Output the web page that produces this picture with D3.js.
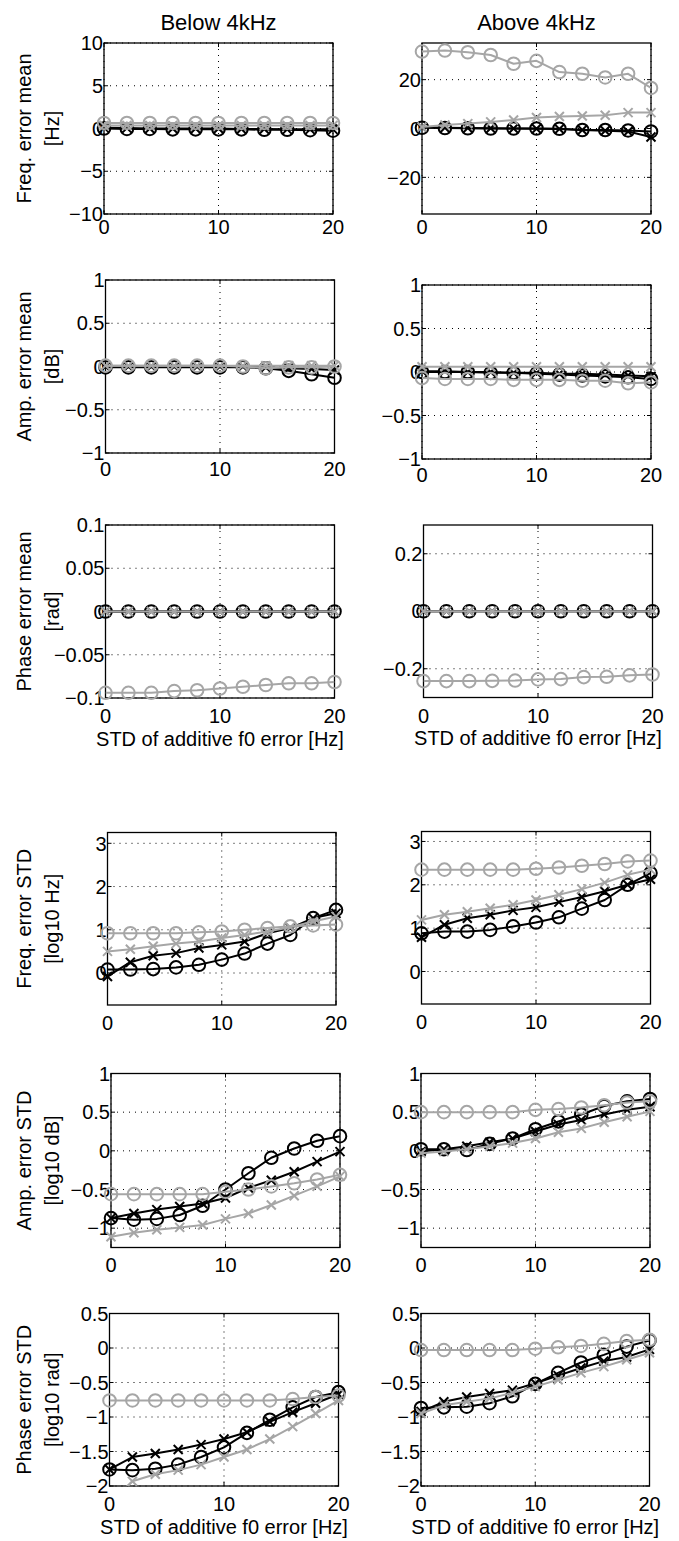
<!DOCTYPE html>
<html><head><meta charset="utf-8">
<script src="https://cdn.jsdelivr.net/npm/d3@7"></script>
<style>
html,body{margin:0;padding:0;background:#fff;}
svg{display:block;}
text{font-family:"Liberation Sans",Arial,Helvetica,sans-serif;fill:#000;}
</style></head>
<body>
<svg id="chart" width="679" height="1541"></svg>
<script>
// ---------- data ----------
const xValues = [0, 2, 4, 6, 8, 10, 12, 14, 16, 18, 20];
const xTicks = [0, 10, 20];
const columnTitles = ["Below 4kHz", "Above 4kHz"];
const rowLabels = [
  ["Freq. error mean", "[Hz]"],
  ["Amp. error mean", "[dB]"],
  ["Phase error mean", "[rad]"],
  ["Freq. error STD", "[log10 Hz]"],
  ["Amp. error STD", "[log10 dB]"],
  ["Phase error STD", "[log10 rad]"]
];
const xLabelText = "STD of additive f0 error [Hz]";

// y tick labels per panel
const yTicksFreqMeanLow = [-10, -5, 0, 5, 10];
const yTicksFreqMeanHigh = [-20, 0, 20];
const yTicksAmpMean = [-1, -0.5, 0, 0.5, 1];
const yTicksPhaseMeanLow = [-0.1, -0.05, 0, 0.05, 0.1];
const yTicksPhaseMeanHigh = [-0.2, 0, 0.2];
const yTicksFreqStd = [0, 1, 2, 3];
const yTicksAmpStd = [-1, -0.5, 0, 0.5, 1];
const yTicksPhaseStd = [-2, -1.5, -1, -0.5, 0, 0.5];

// Freq. error mean, below 4kHz
const freqMeanLowBlackO = [0, -0.05, -0.05, -0.1, -0.1, -0.1, -0.1, -0.15, -0.15, -0.2, -0.25];
const freqMeanLowBlackX = [0.1, 0.05, 0, 0, 0, 0, -0.05, -0.05, -0.1, -0.1, -0.1];
const freqMeanLowGrayO = [0.65, 0.65, 0.65, 0.65, 0.65, 0.65, 0.65, 0.65, 0.65, 0.65, 0.65];
const freqMeanLowGrayX = [0.35, 0.35, 0.35, 0.35, 0.35, 0.35, 0.35, 0.35, 0.35, 0.35, 0.35];
// Freq. error mean, above 4kHz
const freqMeanHighBlackO = [0.3, 0.2, 0.1, 0, 0, 0, -0.1, -0.6, -0.6, -0.8, -1.2];
const freqMeanHighBlackX = [0.5, 0.3, 0.2, 0.1, 0, -0.1, -0.2, -0.6, -0.9, -1.2, -3.5];
const freqMeanHighGrayO = [31.5, 31.9, 31.2, 30.1, 26.5, 27.7, 23.1, 22.4, 20.9, 22.4, 16.6];
const freqMeanHighGrayX = [0.6, 1.4, 2.0, 2.7, 3.5, 4.5, 4.9, 5.1, 5.4, 6.5, 6.5];
// Amp. error mean, below 4kHz
const ampMeanLowBlackO = [-0.01, -0.01, -0.01, -0.01, -0.01, -0.01, -0.01, -0.02, -0.05, -0.09, -0.13];
const ampMeanLowBlackX = [0, 0, 0, 0, 0, 0, 0, -0.01, -0.02, -0.03, -0.04];
const ampMeanLowGrayO = [0.01, 0.01, 0.01, 0.01, 0.01, 0.01, 0, -0.02, -0.01, -0.01, 0];
const ampMeanLowGrayX = [0.01, 0.01, 0.01, 0.01, 0.01, 0.01, 0.01, 0.01, 0.01, 0.01, 0.01];
// Amp. error mean, above 4kHz
const ampMeanHighBlackO = [0, 0, 0, -0.01, -0.01, -0.02, -0.03, -0.04, -0.05, -0.06, -0.08];
const ampMeanHighBlackX = [0.01, 0.01, 0, 0, -0.01, -0.01, -0.02, -0.02, -0.03, -0.04, -0.05];
const ampMeanHighGrayO = [-0.07, -0.08, -0.08, -0.08, -0.09, -0.09, -0.09, -0.1, -0.1, -0.13, -0.12];
const ampMeanHighGrayX = [0.06, 0.06, 0.06, 0.06, 0.06, 0.06, 0.06, 0.06, 0.06, 0.06, 0.06];
// Phase error mean, below 4kHz
const phaseMeanLowBlackO = [0, 0, 0, 0, 0, 0, 0, 0, 0, 0, 0];
const phaseMeanLowBlackX = [0, 0, 0, 0, 0, 0, 0, 0, 0, 0, 0];
const phaseMeanLowGrayO = [-0.094, -0.094, -0.094, -0.092, -0.091, -0.089, -0.087, -0.085, -0.083, -0.083, -0.0815];
const phaseMeanLowGrayX = [0, 0, 0, 0, 0, 0, 0, 0, 0, 0, 0];
// Phase error mean, above 4kHz
const phaseMeanHighBlackO = [0, 0, 0, 0, 0, 0, 0, 0, 0, 0, 0];
const phaseMeanHighBlackX = [0, 0, 0, 0, 0, 0, 0, 0, 0, 0, 0];
const phaseMeanHighGrayO = [-0.243, -0.243, -0.243, -0.242, -0.241, -0.237, -0.236, -0.229, -0.228, -0.223, -0.22];
const phaseMeanHighGrayX = [0, 0, 0, 0, 0, 0, 0, 0, 0, 0, 0];
// Freq. error STD, below 4kHz
const freqStdLowBlackO = [0.08, 0.08, 0.09, 0.13, 0.19, 0.31, 0.45, 0.68, 0.88, 1.27, 1.46];
const freqStdLowBlackX = [-0.08, 0.25, 0.40, 0.46, 0.58, 0.65, 0.73, 0.92, 1.04, 1.27, 1.38];
const freqStdLowGrayO = [0.92, 0.92, 0.92, 0.92, 0.94, 0.96, 1.0, 1.04, 1.08, 1.1, 1.12];
const freqStdLowGrayX = [0.5, 0.55, 0.62, 0.68, 0.73, 0.81, 0.88, 0.96, 1.06, 1.19, 1.31];
// Freq. error STD, above 4kHz
const freqStdHighBlackO = [0.88, 0.92, 0.92, 0.96, 1.04, 1.13, 1.25, 1.45, 1.65, 2.0, 2.27];
const freqStdHighBlackX = [0.79, 1.08, 1.23, 1.31, 1.41, 1.48, 1.6, 1.72, 1.85, 2.0, 2.13];
const freqStdHighGrayO = [2.35, 2.35, 2.35, 2.35, 2.35, 2.37, 2.40, 2.44, 2.48, 2.54, 2.56];
const freqStdHighGrayX = [1.19, 1.31, 1.38, 1.46, 1.54, 1.65, 1.77, 1.9, 2.05, 2.23, 2.35];
// Amp. error STD, below 4kHz
const ampStdLowBlackO = [-0.87, -0.89, -0.88, -0.83, -0.71, -0.50, -0.29, -0.09, 0.03, 0.13, 0.19];
const ampStdLowBlackX = [-0.87, -0.81, -0.76, -0.72, -0.68, -0.61, -0.48, -0.38, -0.27, -0.14, -0.01];
const ampStdLowGrayO = [-0.56, -0.56, -0.56, -0.56, -0.56, -0.53, -0.50, -0.46, -0.42, -0.37, -0.31];
const ampStdLowGrayX = [-1.11, -1.06, -1.02, -0.99, -0.96, -0.88, -0.81, -0.70, -0.58, -0.46, -0.33];
// Amp. error STD, above 4kHz
const ampStdHighBlackO = [0.02, 0.02, 0.01, 0.09, 0.16, 0.28, 0.38, 0.47, 0.58, 0.64, 0.67];
const ampStdHighBlackX = [-0.01, 0.02, 0.06, 0.11, 0.16, 0.25, 0.34, 0.40, 0.47, 0.53, 0.57];
const ampStdHighGrayO = [0.5, 0.5, 0.5, 0.5, 0.5, 0.53, 0.54, 0.56, 0.59, 0.625, 0.64];
const ampStdHighGrayX = [-0.03, -0.01, 0.02, 0.06, 0.10, 0.16, 0.24, 0.29, 0.37, 0.44, 0.51];
// Phase error STD, below 4kHz
const phaseStdLowBlackO = [-1.76, -1.77, -1.75, -1.69, -1.58, -1.44, -1.23, -1.04, -0.86, -0.71, -0.64];
const phaseStdLowBlackX = [-1.76, -1.58, -1.53, -1.47, -1.40, -1.32, -1.22, -1.07, -0.93, -0.80, -0.67];
const phaseStdLowGrayO = [-0.76, -0.76, -0.76, -0.76, -0.76, -0.76, -0.76, -0.76, -0.74, -0.71, -0.69];
const phaseStdLowGrayX = [-2.25, -1.93, -1.83, -1.77, -1.69, -1.58, -1.47, -1.32, -1.14, -0.95, -0.76];
// Phase error STD, above 4kHz
const phaseStdHighBlackO = [-0.87, -0.86, -0.85, -0.80, -0.70, -0.52, -0.36, -0.21, -0.10, 0.02, 0.11];
const phaseStdHighBlackX = [-0.92, -0.78, -0.71, -0.66, -0.61, -0.51, -0.40, -0.29, -0.19, -0.13, -0.02];
const phaseStdHighGrayO = [-0.03, -0.03, -0.03, -0.03, -0.03, -0.01, 0.01, 0.03, 0.06, 0.10, 0.12];
const phaseStdHighGrayX = [-0.95, -0.83, -0.78, -0.73, -0.65, -0.56, -0.46, -0.36, -0.27, -0.17, -0.07];

// ---------- layout (positions / styles) ----------
const BLACK = "#000";
const GRAY = "#a6a6a6";
const panels = [
  {row:0,col:0,l:104,r:333,t:43,b:214,dom:[-10,10],ticks:yTicksFreqMeanLow,s:[freqMeanLowBlackO,freqMeanLowBlackX,freqMeanLowGrayO,freqMeanLowGrayX]},
  {row:0,col:1,l:422,r:651,t:43,b:214,dom:[-35,35],ticks:yTicksFreqMeanHigh,s:[freqMeanHighBlackO,freqMeanHighBlackX,freqMeanHighGrayO,freqMeanHighGrayX]},
  {row:1,col:0,l:105.5,r:334.5,t:280,b:453,dom:[-1,1],ticks:yTicksAmpMean,s:[ampMeanLowBlackO,ampMeanLowBlackX,ampMeanLowGrayO,ampMeanLowGrayX]},
  {row:1,col:1,l:422,r:651,t:285,b:459,dom:[-1,1],ticks:yTicksAmpMean,s:[ampMeanHighBlackO,ampMeanHighBlackX,ampMeanHighGrayO,ampMeanHighGrayX]},
  {row:2,col:0,l:105.5,r:334.5,t:525,b:698,dom:[-0.1,0.1],ticks:yTicksPhaseMeanLow,s:[phaseMeanLowBlackO,phaseMeanLowBlackX,phaseMeanLowGrayO,phaseMeanLowGrayX]},
  {row:2,col:1,l:423.5,r:652.5,t:525,b:697.5,dom:[-0.3,0.3],ticks:yTicksPhaseMeanHigh,s:[phaseMeanHighBlackO,phaseMeanHighBlackX,phaseMeanHighGrayO,phaseMeanHighGrayX]},
  {row:3,col:0,l:107.5,r:336,t:832.5,b:1005,dom:[-0.74,3.25],ticks:yTicksFreqStd,s:[freqStdLowBlackO,freqStdLowBlackX,freqStdLowGrayO,freqStdLowGrayX]},
  {row:3,col:1,l:421.5,r:650.5,t:831.5,b:1004,dom:[-0.75,3.23],ticks:yTicksFreqStd,s:[freqStdHighBlackO,freqStdHighBlackX,freqStdHighGrayO,freqStdHighGrayX]},
  {row:4,col:0,l:111,r:340,t:1073.5,b:1247.5,dom:[-1.25,1],ticks:yTicksAmpStd,s:[ampStdLowBlackO,ampStdLowBlackX,ampStdLowGrayO,ampStdLowGrayX]},
  {row:4,col:1,l:421,r:650,t:1073.5,b:1247.5,dom:[-1.25,1],ticks:yTicksAmpStd,s:[ampStdHighBlackO,ampStdHighBlackX,ampStdHighGrayO,ampStdHighGrayX]},
  {row:5,col:0,l:109.5,r:338.5,t:1313.5,b:1486,dom:[-2,0.5],ticks:yTicksPhaseStd,s:[phaseStdLowBlackO,phaseStdLowBlackX,phaseStdLowGrayO,phaseStdLowGrayX]},
  {row:5,col:1,l:421,r:649.5,t:1313.5,b:1486,dom:[-2,0.5],ticks:yTicksPhaseStd,s:[phaseStdHighBlackO,phaseStdHighBlackX,phaseStdHighGrayO,phaseStdHighGrayX]}
];
const seriesStyle = [
  {color:BLACK, marker:"o"},
  {color:BLACK, marker:"x"},
  {color:GRAY, marker:"o"},
  {color:GRAY, marker:"x"}
];
const xTickOffset = [12.5, 15.5, 18, 18, 17, 18];
const FS = 20;
const TITLE_FS = 22;
const fmt = d3.format("~g");

const svg = d3.select("#chart");
const defs = svg.append("defs");

panels.forEach((p, i) => {
  const x = d3.scaleLinear().domain([0, 20]).range([p.l, p.r]);
  const y = d3.scaleLinear().domain(p.dom).range([p.b, p.t]);
  const g = svg.append("g");

  defs.append("clipPath").attr("id", "clip" + i)
    .append("rect").attr("x", p.l).attr("y", p.t).attr("width", p.r - p.l).attr("height", p.b - p.t);

  // grid
  const grid = g.append("g").attr("stroke", "#000").attr("stroke-width", 1).attr("stroke-dasharray", "1,5");
  xTicks.forEach(v => {
    grid.append("line").attr("x1", x(v)).attr("x2", x(v)).attr("y1", p.t).attr("y2", p.b);
  });
  p.ticks.forEach(v => {
    grid.append("line").attr("x1", p.l).attr("x2", p.r).attr("y1", y(v)).attr("y2", y(v));
  });

  // inward ticks on all sides
  const tk = g.append("g").attr("stroke", "#000").attr("stroke-width", 1);
  xTicks.forEach(v => {
    tk.append("line").attr("x1", x(v)).attr("x2", x(v)).attr("y1", p.b).attr("y2", p.b - 4);
    tk.append("line").attr("x1", x(v)).attr("x2", x(v)).attr("y1", p.t).attr("y2", p.t + 4);
  });
  p.ticks.forEach(v => {
    tk.append("line").attr("x1", p.l).attr("x2", p.l + 4).attr("y1", y(v)).attr("y2", y(v));
    tk.append("line").attr("x1", p.r).attr("x2", p.r - 4).attr("y1", y(v)).attr("y2", y(v));
  });

  // axes box
  g.append("rect").attr("x", p.l).attr("y", p.t).attr("width", p.r - p.l).attr("height", p.b - p.t)
    .attr("fill", "none").attr("stroke", "#000").attr("stroke-width", 1.3);

  // tick labels
  xTicks.forEach(v => {
    g.append("text").attr("x", x(v)).attr("y", p.b + xTickOffset[p.row] + 7.2)
      .attr("text-anchor", "middle").attr("font-size", FS).text(fmt(v));
  });
  p.ticks.forEach(v => {
    g.append("text").attr("x", p.l - 1).attr("y", y(v) + 7.2)
      .attr("text-anchor", "end").attr("font-size", FS).text(fmt(v));
  });

  // series
  p.s.forEach((vals, si) => {
    const st = seriesStyle[si];
    const pts = xValues.map((xv, k) => [xv, vals[k]]);
    const line = d3.line().x(d => x(d[0])).y(d => y(d[1]));
    g.append("path").attr("d", line(pts)).attr("fill", "none")
      .attr("stroke", st.color).attr("stroke-width", 2).attr("stroke-linejoin", "round")
      .attr("clip-path", "url(#clip" + i + ")");
    const inDom = pts.filter(d => d[1] >= p.dom[0] && d[1] <= p.dom[1]);
    if (st.marker === "o") {
      g.selectAll(null).data(inDom).enter().append("circle")
        .attr("cx", d => x(d[0])).attr("cy", d => y(d[1])).attr("r", 6.3)
        .attr("fill", "none").attr("stroke", st.color).attr("stroke-width", 2);
    } else {
      const s = 4.5;
      g.selectAll(null).data(inDom).enter().append("path")
        .attr("d", d => {
          const cx = x(d[0]), cy = y(d[1]);
          return `M${cx - s},${cy - s}L${cx + s},${cy + s}M${cx - s},${cy + s}L${cx + s},${cy - s}`;
        })
        .attr("stroke", st.color).attr("stroke-width", 2).attr("fill", "none");
    }
  });

  // column titles
  if (p.row === 0) {
    svg.append("text").attr("x", (p.l + p.r) / 2).attr("y", 29.5)
      .attr("text-anchor", "middle").attr("font-size", TITLE_FS).text(columnTitles[p.col]);
  }
  // y labels (left column)
  if (p.col === 0) {
    const cy = (p.t + p.b) / 2;
    const t = svg.append("text").attr("transform", `translate(31,${cy}) rotate(-90)`)
      .attr("text-anchor", "middle").attr("font-size", FS);
    t.append("tspan").attr("x", 0).attr("y", 0).text(rowLabels[p.row][0]);
    t.append("tspan").attr("x", 0).attr("y", 28).text(rowLabels[p.row][1]);
  }
  // x labels
  if (p.row === 2 || p.row === 5) {
    svg.append("text").attr("x", (p.l + p.r) / 2).attr("y", p.b + 47.5)
      .attr("text-anchor", "middle").attr("font-size", FS).text(xLabelText);
  }
});
</script>
</body></html>
